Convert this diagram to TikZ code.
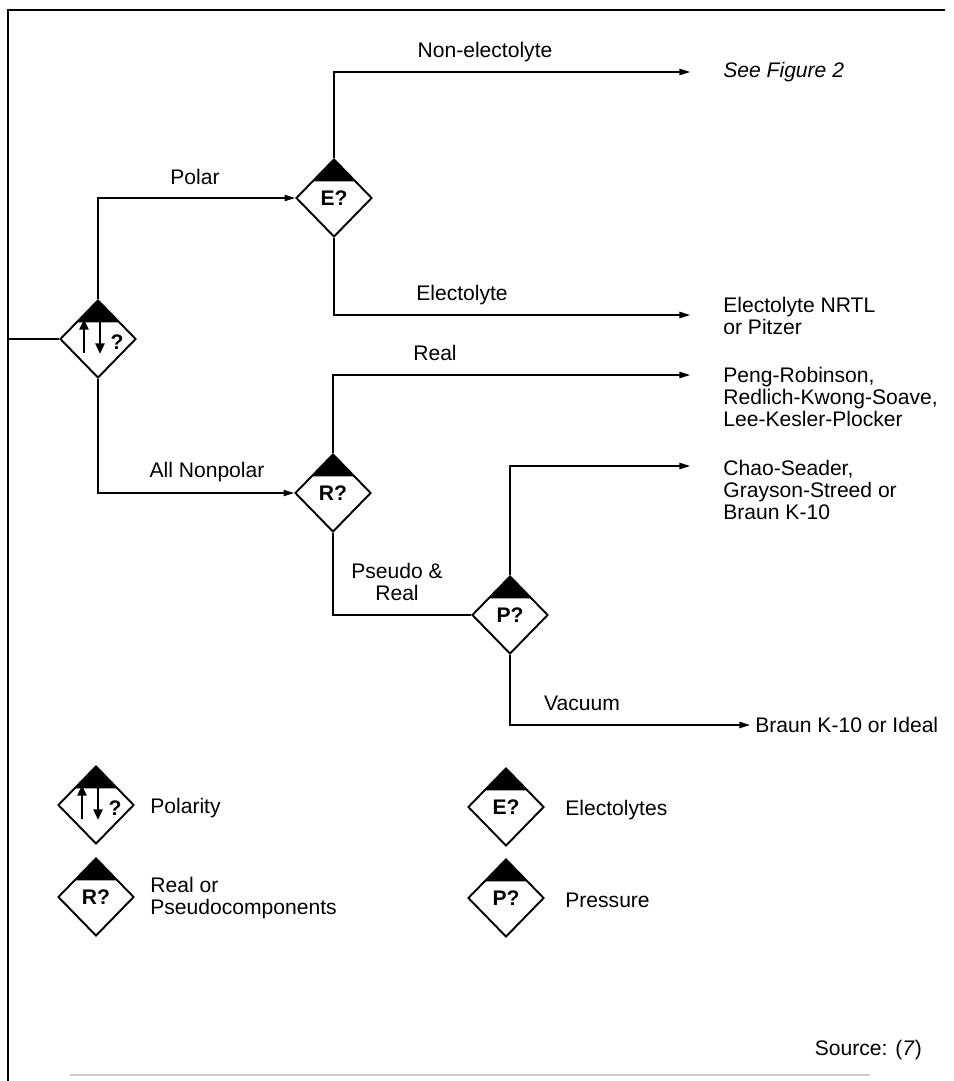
\documentclass[tikz,border=0pt]{standalone}
\usepackage{fontspec}
\setmainfont{Liberation Sans}
\usetikzlibrary{arrows.meta,shapes.geometric}

\tikzset{
  test/.style={draw, diamond, line width=1.1pt, minimum width=1.52cm, minimum height=1.56cm,
    inner sep=0pt, font=\fontsize{12}{13}\selectfont\bfseries,
    path picture={\fill (path picture bounding box.north west) -- (path picture bounding box.north east)
      -- ([yshift=-0.44cm]path picture bounding box.north east)
      .. controls +(-0.5,0.03) and +(0.5,0.05) .. ([yshift=-0.44cm]path picture bounding box.north west) -- cycle;}},
  flow/.style={line width=0.8pt},
  sign/.style={line width=1.6pt, -{Triangle[length=6pt,width=5pt]}},
  lbl/.style={font=\fontsize{12}{13}\selectfont},
  res/.style={lbl, align=left, anchor=west, inner sep=0pt, font=\fontsize{12}{12.6}\selectfont}
}

\begin{document}
\begin{tikzpicture}[x=0.02cm, y=-0.02cm, >={Triangle[length=6pt,width=3.6pt]}]
    \useasboundingbox (0,0) rectangle (953,1081);
    % Frame
    \draw [line width=0.8pt] (8,1081) -- (8,10) -- (945,10);
    \draw [gray!40, line width=0.6pt] (70,1075) -- (870,1075);
    % Tests
    \node [test] (pol) at (98,339) {};
    \node [test] (elec) at (334,198) {E?};
    \node [test] (real) at (333,493) {R?};
    \node [test] (pres) at (510,615) {P?};
    % Results
    \node [res] (fig2) at (723,72) {\itshape See Figure 2};
    \node [res] (nrtl) at (723,316) {Electolyte NRTL\\or Pitzer};
    \node [res] (pr) at (723,397) {Peng-Robinson,\\Redlich-Kwong-Soave,\\Lee-Kesler-Plocker};
    \node [res] (cs) at (723,490) {Chao-Seader,\\Grayson-Streed or\\Braun K-10};
    \node [res] (bk) at (755,725) {Braun K-10 or Ideal};
    % Arrow ends
    \coordinate (in) at (8,339);
    \coordinate (e1) at (690,72);
    \coordinate (e2) at (690,315);
    \coordinate (e3) at (690,375);
    \coordinate (e4) at (690,466);
    \coordinate (e5) at (750,725);
    % Connectors
    \draw [flow] (in) -- (pol.west);
    \draw [flow,->] (pol.north) |- (elec.west);
    \draw [flow,->] (pol.south) |- (real.west);
    \draw [flow,->] (elec.north) |- (e1);
    \draw [flow,->] (elec.south) |- (e2);
    \draw [flow,->] (real.north) |- (e3);
    \draw [flow] (real.south) |- (pres.west);
    \draw [flow,->] (pres.north) |- (e4);
    \draw [flow,->] (pres.south) |- (e5);
    % Branch labels
    \node [lbl] (lpolar) at (195,177) {Polar};
    \node [lbl] (lnon) at (485,52) {Non-electolyte};
    \node [lbl] (lel) at (462,295) {Electolyte};
    \node [lbl] (lreal) at (435,353) {Real};
    \node [lbl] (lnp) at (207,472) {All Nonpolar};
    \node [lbl, align=center] (lps) at (397,582) {Pseudo \&\\Real};
    \node [lbl] (lvac) at (582,703) {Vacuum};
    % Legend
    \node [test] (legpol) at (96,805) {};
    \node [test] (legreal) at (96,897) {R?};
    \node [test] (legelec) at (506,807) {E?};
    \node [test] (legpres) at (506,898) {P?};
    \node [res] (tpol) at (150,808) {Polarity};
    \node [res] (treal) at (150,898) {Real or\\Pseudocomponents};
    \node [res] (telec) at (565,810) {Electolytes};
    \node [res] (tpres) at (565,900) {Pressure};
    % Polarity sign
    \foreach \p in {pol, legpol} {
        \draw [sign] (\p.center) ++(-14,14) -- ++(0,-34);
        \draw [sign] (\p.center) ++(2,-26) -- ++(0,41);
        \node [lbl, font=\fontsize{12}{13}\selectfont\bfseries] (\p q) at ([xshift=0.38cm,yshift=-0.06cm]\p.center) {?};
    }
    % Source
    \node [lbl, anchor=east] (src) at (928,1050) {Source: (\textit{7})};
\end{tikzpicture}
\end{document}
